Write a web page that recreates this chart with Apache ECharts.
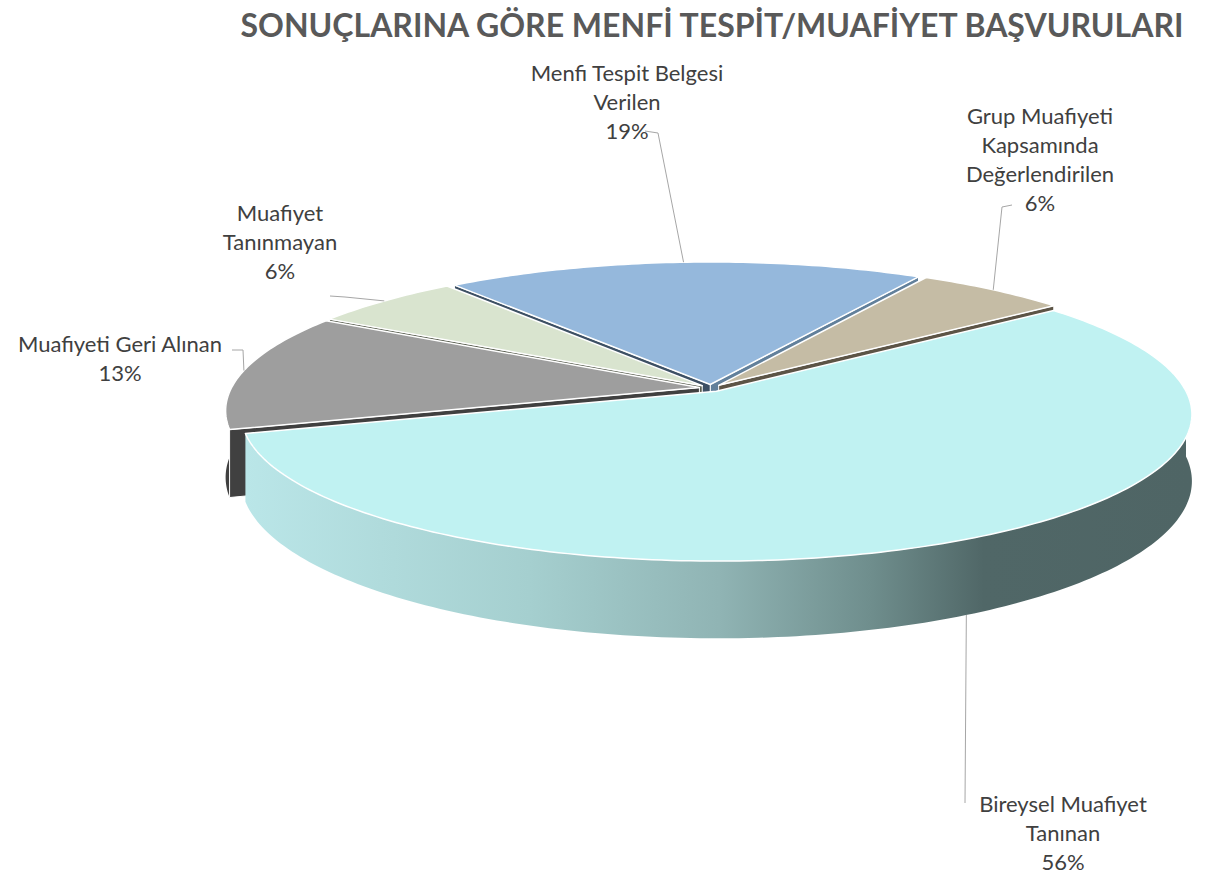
<!DOCTYPE html>
<html>
<head>
<meta charset="utf-8">
<title>Menfi Tespit / Muafiyet Başvuruları</title>
<script src="https://cdn.jsdelivr.net/npm/echarts@6/dist/echarts.min.js"></script>
<style>
  html, body { margin: 0; padding: 0; background: #ffffff; }
  #chart { width: 1222px; height: 876px; }
</style>
</head>
<body>
<div id="chart"></div>
<script>
// data (percentages)
const categories = [
  "Menfi Tespit Belgesi Verilen",
  "Grup Muafiyeti Kapsamında Değerlendirilen",
  "Bireysel Muafiyet Tanınan",
  "Muafiyeti Geri Alınan",
  "Muafiyet Tanınmayan"
];
const values = [19, 6, 56, 13, 6];
const labelLines = [
  ["Menfi Tespit Belgesi", "Verilen"],
  ["Grup Muafiyeti", "Kapsamında", "Değerlendirilen"],
  ["Bireysel Muafiyet", "Tanınan"],
  ["Muafiyeti Geri Alınan"],
  ["Muafiyet", "Tanınmayan"]
];

// look of the 3d pie
const topColors = ["#95b8dc", "#c5bca5", "#c0f2f2", "#9e9e9e", "#d9e4cf"];
const faceColors = [
  ["#3d5064", "#62809b"],
  ["#5c5446", "#5c5446"],
  ["#5f7f7f", "#5f7f7f"],
  ["#404040", "#404040"],
  ["#595e50", "#595e50"]
];
const wallColors = ["#4d6580", "#5c5446", null, "#404040", "#5a5e50"];
const view = { cx: 711, cy: 388, rx: 468, ry: 142.5, depth: 65, persp: 0.155, explode: 0.025, start: 128 };

// label layout: centre x, first line y, leader elbow points
const labelPos = [[627, 72], [1040, 115], [1063, 803], [120, 343], [280, 212]];
const leaderElbows = [
  [[645, 131], [658, 133]],
  [[1012, 205], [1002, 207]],
  [[965, 803]],
  [[232, 350], [243, 350]],
  [[330, 296], [345, 297]]
];
const leaderOnBottom = [false, false, true, false, false];

const RAD = Math.PI / 180;
const total = values.reduce((a, b) => a + b, 0);

function project(X, Z, h) {
  const k = 1 / (1 + view.persp * Z);
  return [view.cx + view.rx * X * k, view.cy + (-view.ry * Z + h) * k];
}

function renderItem(params, api) {
  const i = params.dataIndex;
  const before = values.slice(0, i).reduce((a, b) => a + b, 0);
  const a0 = view.start - before / total * 360;
  const a1 = a0 - api.value(0) / total * 360;
  const mid = (a0 + a1) / 2;
  const ox = view.explode * Math.cos(mid * RAD);
  const oz = view.explode * Math.sin(mid * RAD);
  const H = view.depth;

  const pt = (deg, r, h) => project(ox + r * Math.cos(deg * RAD), oz + r * Math.sin(deg * RAD), h);
  const arc = (from, to, h) => {
    const n = Math.max(2, Math.ceil(Math.abs(to - from)));
    const out = [];
    for (let s = 0; s <= n; s++) out.push(pt(from + (to - from) * s / n, 1, h));
    return out;
  };

  const children = [];

  // top face
  children.push({
    type: "polygon",
    shape: { points: [pt(0, 0, 0)].concat(arc(a0, a1, 0)) },
    style: { fill: topColors[i], stroke: "#ffffff", lineWidth: 1.5, lineJoin: "round" },
    z2: 500
  });

  // cut faces that turn towards the viewer
  [[a0, Math.cos(a0 * RAD) < 0, faceColors[i][0]], [a1, Math.cos(a1 * RAD) > 0, faceColors[i][1]]]
    .forEach(([ang, visible, color]) => {
      if (!visible) return;
      children.push({
        type: "polygon",
        shape: { points: [pt(0, 0, 0), pt(ang, 1, 0), pt(ang, 1, H), pt(0, 0, H)] },
        style: { fill: color, stroke: "#ffffff", lineWidth: 1 },
        z2: 100 - 50 * (oz + 0.5 * Math.sin(ang * RAD))
      });
    });

  // outer wall, front half only
  for (let k = -2; k <= 2; k++) {
    const lo = Math.max(a1, k * 360 - 180);
    const hi = Math.min(a0, k * 360);
    if (hi <= lo) continue;
    const fill = wallColors[i] || new echarts.graphic.LinearGradient(0, 0, 1, 0, [
      { offset: 0, color: "#bae6e8" },
      { offset: 0.3, color: "#a5cfcf" },
      { offset: 0.5, color: "#90b4b4" },
      { offset: 0.66, color: "#6f8e8d" },
      { offset: 0.78, color: "#506767" },
      { offset: 1, color: "#4f6565" }
    ]);
    children.push({
      type: "polygon",
      shape: { points: arc(lo, hi, 0).concat(arc(hi, lo, H)) },
      style: { fill: fill },
      z2: 100 - 50 * (oz + 0.8 * Math.sin((lo + hi) / 2 * RAD))
    });
  }

  // label with leader line
  const anchor = pt(mid, 1, leaderOnBottom[i] ? H : 0);
  const pct = Math.round(api.value(0) / total * 100) + "%";
  const lines = labelLines[i].concat([pct]);
  children.push({
    type: "polyline",
    shape: { points: leaderElbows[i].concat([anchor]) },
    style: { stroke: "#a6a6a6", lineWidth: 1, fill: null },
    z2: 900
  });
  children.push({
    type: "text",
    style: {
      text: lines.join("\n"),
      x: labelPos[i][0],
      y: labelPos[i][1] - 14.5,
      align: "center",
      verticalAlign: "top",
      lineHeight: 29,
      fontFamily: "Lato",
      fontSize: 22,
      fill: "#404040"
    },
    z2: 1000
  });

  return { type: "group", children: children };
}

const chart = echarts.init(document.getElementById("chart"), null, { renderer: "svg" });
chart.setOption({
  backgroundColor: "#ffffff",
  animation: false,
  title: {
    text: "SONUÇLARINA GÖRE MENFİ TESPİT/MUAFİYET BAŞVURULARI",
    left: 707,
    top: 3,
    textAlign: "center",
    textStyle: { fontFamily: "Lato", fontWeight: "bold", fontSize: 32, color: "#595959" }
  },
  series: [{
    type: "custom",
    coordinateSystem: "none",
    silent: true,
    renderItem: renderItem,
    data: values.map((v, i) => ({ name: categories[i], value: v }))
  }]
});
</script>
</body>
</html>
